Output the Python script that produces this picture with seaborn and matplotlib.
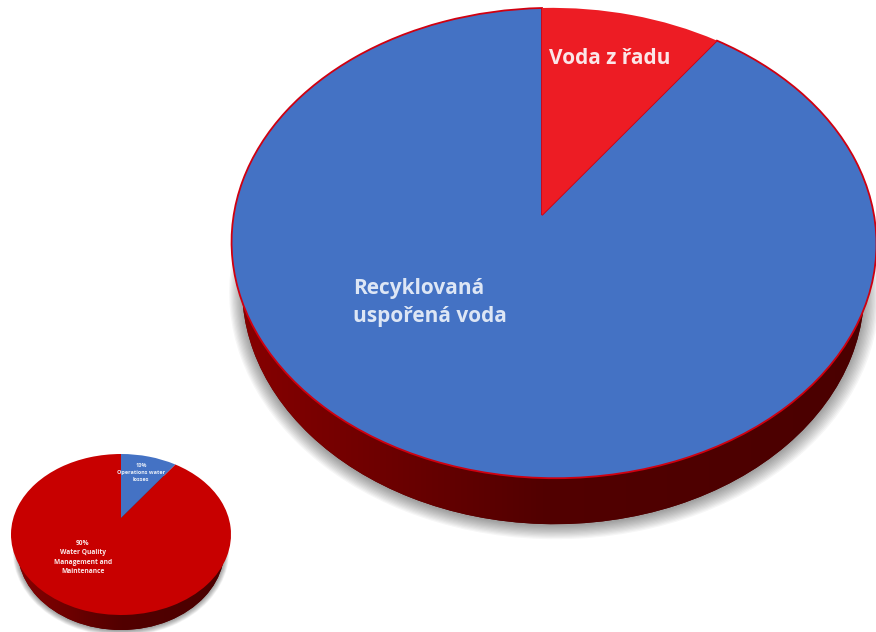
import numpy as np
import seaborn as sns
import matplotlib
matplotlib.use('Agg')
import matplotlib.pyplot as plt
from matplotlib.colors import LinearSegmentedColormap
from matplotlib.transforms import Affine2D, Transform

# Shares (percent)
big_labels = ['Voda z řadu', 'Recyklovaná\nuspořená voda']
big_values = [10, 90]
big_colors = ['#ed1c24', '#4472c4']

small_labels = ['10%\nOperations water\nlosses', '90%\nWater Quality\nManagement and\nMaintenance']
small_values = [10, 90]
small_colors = ['#4472c4', '#c80000']

side_colors = ['#8c0000', '#520000', '#4a0000']

WIDTH, HEIGHT = 876, 632

sns.set_theme(style='white')
plt.rcParams['font.family'] = ['Open Sans', 'DejaVu Sans']


class Tilt(Transform):
    """Perspective of a unit pie, so the apex sits off the ellipse centre."""
    input_dims = 2
    output_dims = 2
    is_affine = False

    def __init__(self, rx, top, bottom, m=0.0):
        super().__init__()
        self.k = (bottom - top) / (bottom + top)
        self.a = top * (1 + self.k)
        self.b = rx * np.sqrt(1 - self.k ** 2)
        self.m = m

    def transform_non_affine(self, values):
        values = np.asarray(values)
        x, y = values[:, 0], values[:, 1]
        w = 1 + self.k * y + self.m * x
        return np.column_stack([self.b * x / w, self.a * y / w])


def pie_axes(apex_x, apex_y):
    # full figure axes, one data unit is one pixel, origin on the apex
    ax = plt.figure(1).add_axes([0, 0, 1, 1])
    ax.patch.set_alpha(0)
    return ax, (-apex_x, WIDTH - apex_x), (apex_y - HEIGHT, apex_y)


def draw_pie(ax, xlim, ylim, values, colors, tilt, depth, squeeze, edge=None):
    # soft shadow under the side wall
    for i in range(12):
        grow = 1 + 0.004 * i
        move = Affine2D().scale(squeeze * grow, grow)
        wedges, _ = ax.pie([1], colors=['black'], startangle=90,
                           wedgeprops={'alpha': 0.035, 'linewidth': 0})
        wedges[0].set_transform(move + tilt + Affine2D().translate(0, -depth * 1.04) + ax.transData)
        wedges[0].set_zorder(0.5)

    # side wall, darkening from left to right
    wall, _ = ax.pie([1], colors=[side_colors[1]], startangle=90, wedgeprops={'linewidth': 0})
    wall[0].set_transform(Affine2D().scale(squeeze, 1) + tilt + Affine2D().translate(0, -depth) + ax.transData)
    wall[0].set_zorder(1)
    cmap = LinearSegmentedColormap.from_list('side', side_colors)
    image = ax.imshow(np.linspace(0, 1, 256)[None, :], cmap=cmap, aspect='auto', zorder=1.5,
                      extent=(-tilt.b * 1.05, tilt.b * 1.05, ylim[0], ylim[1]))
    image.set_clip_path(wall[0])

    # top face, clockwise from twelve o'clock
    wedges, _ = ax.pie(values, colors=colors, startangle=90, counterclock=False,
                       wedgeprops={'linewidth': 0})
    for wedge, z in zip(wedges, [3, 2]):
        wedge.set_transform(tilt + ax.transData)
        wedge.set_zorder(z)
    if edge:
        wedges[1].set_edgecolor(edge)
        wedges[1].set_linewidth(1.3)

    ax.set_aspect('auto')
    ax.set_xlim(*xlim)
    ax.set_ylim(*ylim)
    ax.set_axis_off()


fig = plt.figure(1, figsize=(WIDTH / 100, HEIGHT / 100), dpi=100, facecolor='white')

# Big pie
ax, xlim, ylim = pie_axes(542, 215)
big_tilt = Tilt(322, 207, 263, m=-0.037)
draw_pie(ax, xlim, ylim, big_values, big_colors, big_tilt, 46, 0.965, edge='#d00010')
ax.text(549 - 542, 215 - 59, big_labels[0], color='#fbe6e8', fontsize=15, fontweight='bold',
        ha='left', va='center', zorder=5)
ax.text(353 - 542, 215 - 302.5, big_labels[1], color='#dde6f5', fontsize=15, fontweight='bold',
        ha='left', va='center', linespacing=1.45, zorder=5)

# Small pie
ax2, xlim2, ylim2 = pie_axes(121, 518)
small_tilt = Tilt(110, 64, 97)
draw_pie(ax2, xlim2, ylim2, small_values, small_colors, small_tilt, 15, 0.94)
ax2.text(141 - 121, 518 - 472.5, small_labels[0], color='#e8eef8', fontsize=4, fontweight='bold',
         ha='center', va='center', linespacing=1.5, zorder=5)
ax2.text(83 - 121, 518 - 557.5, small_labels[1], color='#fbe8e8', fontsize=4.8, fontweight='bold',
         ha='center', va='center', linespacing=1.5, zorder=5)

fig.savefig('out.png', dpi=100)
